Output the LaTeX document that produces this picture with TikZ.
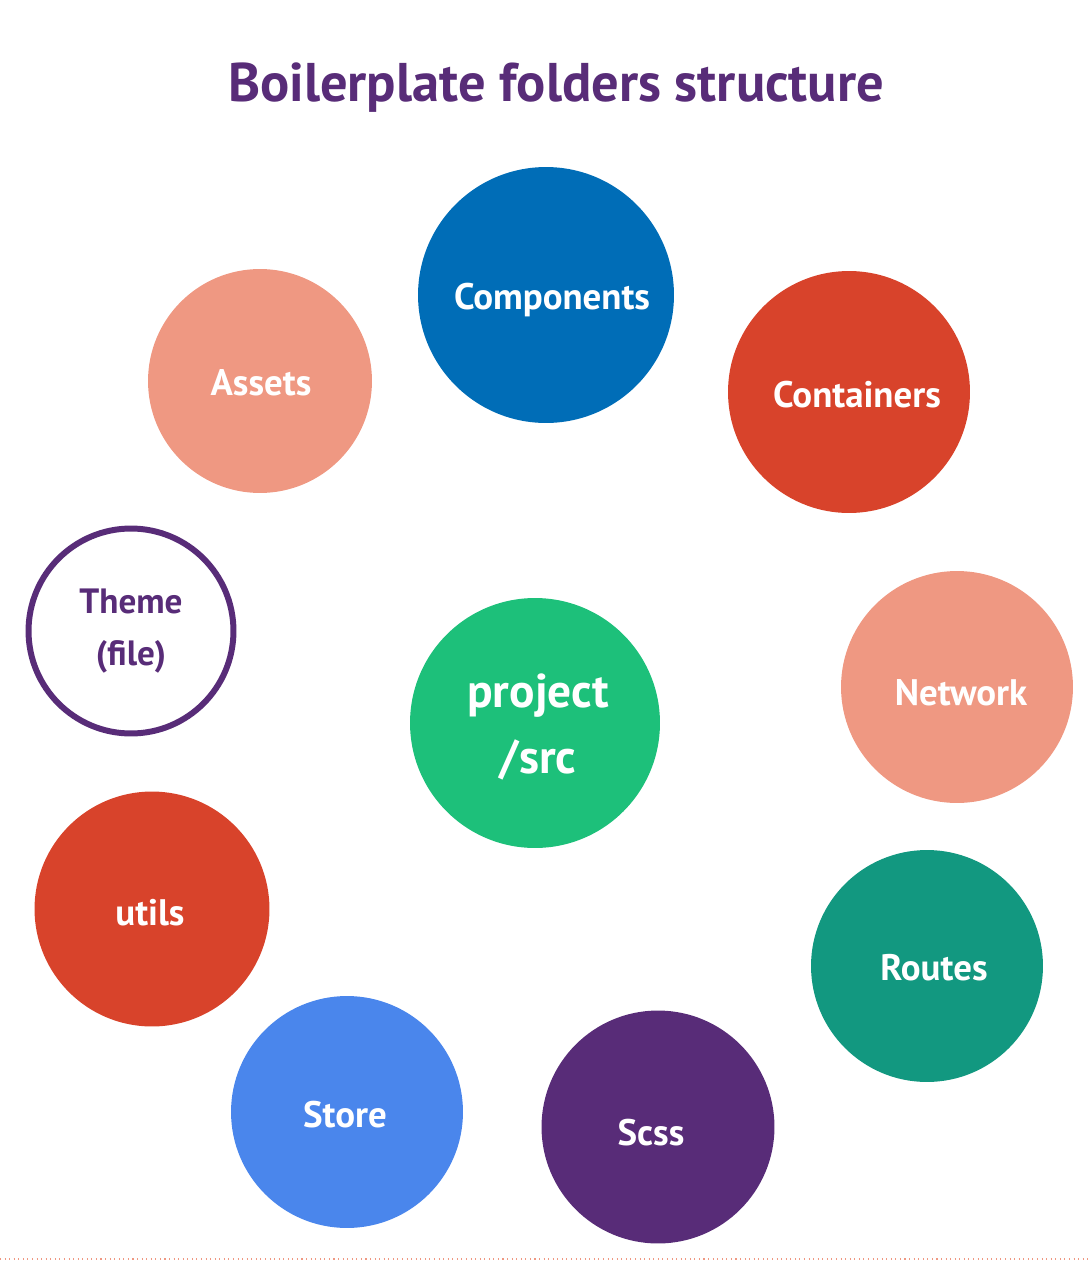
\documentclass[tikz,border=0pt]{standalone}
\usepackage{fontspec}
\setmainfont{PT Sans}
\usepackage{xcolor}
\usepackage{tikz}
\usetikzlibrary{positioning}
\definecolor{plum}{RGB}{88,44,120}
\definecolor{compblue}{RGB}{0,109,183}
\definecolor{brick}{RGB}{216,67,43}
\definecolor{salmon}{RGB}{239,152,130}
\definecolor{mint}{RGB}{29,192,122}
\definecolor{teal}{RGB}{18,152,128}
\definecolor{skyblue}{RGB}{74,134,236}
\tikzset{
  folder/.style={circle, draw=none, text=white, align=center, inner sep=0pt,
                 font=\fontsize{21}{24}\selectfont\bfseries},
  filebox/.style={circle, draw=plum, line width=3.4pt, text=plum, fill=white,
                  align=center, inner sep=0pt, font=\fontsize{20}{30}\selectfont\bfseries},
  titletext/.style={text=plum, font=\fontsize{31}{34}\selectfont\bfseries}
}

\begin{document}
\begin{tikzpicture}[x=0.02cm, y=-0.02cm]
  \useasboundingbox (0,0) rectangle (1091,1261);

  % Title
  \node[titletext] (title) at (556,88) {Boilerplate folders structure};

  % Folders round the centre
  \node[folder, fill=compblue, minimum size=5.12cm] (comp) at (546,295) {};
  \node[folder] at (552,300) {Components};
  \node[folder, fill=brick, minimum size=4.84cm] (cont) at (849,392) {};
  \node[folder] at (857,395) {Containers};
  \node[folder, fill=salmon, minimum size=4.48cm] (assets) at (260,381) {};
  \node[folder] at (261,383) {Assets};
  \node[filebox, minimum size=4.1cm] (theme) at (131,631) {Theme\\(file)};
  \node[folder, fill=salmon, minimum size=4.64cm] (net) at (957,687) {};
  \node[folder] at (961,693) {Network};
  \node[folder, fill=brick, minimum size=4.7cm] (utils) at (152,909) {};
  \node[folder] at (150,913) {utils};
  \node[folder, fill=teal, minimum size=4.64cm] (routes) at (927,966) {};
  \node[folder] at (934,968) {Routes};
  \node[folder, fill=skyblue, minimum size=4.64cm] (store) at (347,1112) {};
  \node[folder] at (345,1115) {Store};
  \node[folder, fill=plum, minimum size=4.66cm] (scss) at (658,1127) {};
  \node[folder] at (651,1133) {Scss};

  % Centre
  \node[folder, fill=mint, minimum size=5cm] (src) at (535,723) {};
  \node[folder, font=\fontsize{27}{38}\selectfont\bfseries] at (538,727) {project\\/src};

  % Bottom edge
  \draw[salmon, dotted, line width=0.6pt] (0,1259) -- (1091,1259);
\end{tikzpicture}
\end{document}
